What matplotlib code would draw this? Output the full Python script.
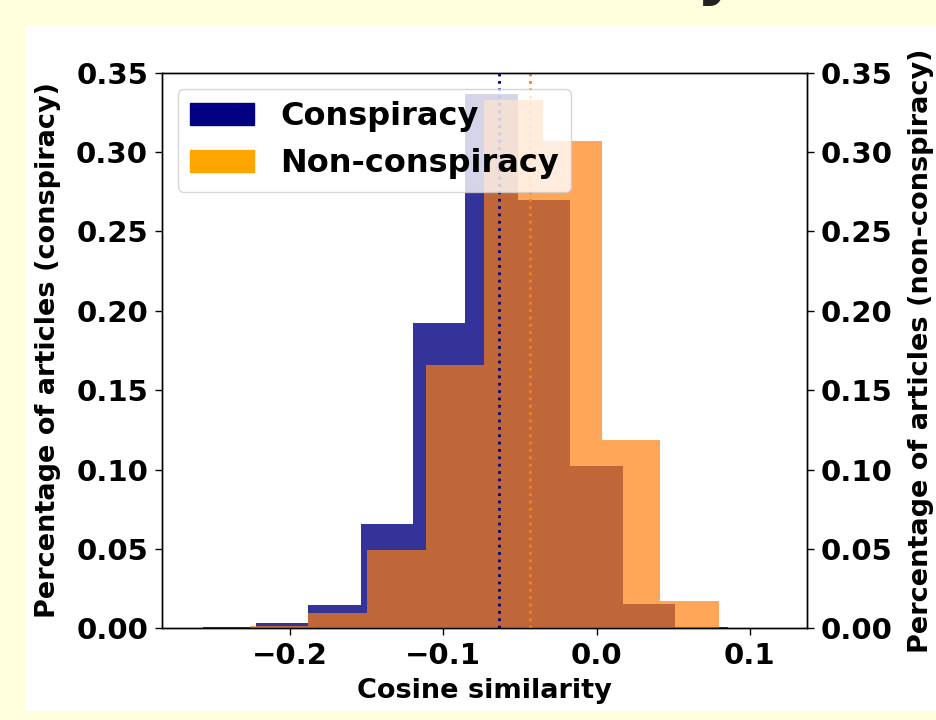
import matplotlib
matplotlib.use("Agg")
import matplotlib.pyplot as plt
from matplotlib.patches import Rectangle, Patch
import numpy as np

# ---- data ----
consp_edges = [-0.2563, -0.2221, -0.1880, -0.1538, -0.1196, -0.0855,
               -0.0513, -0.0171, 0.0171, 0.0512, 0.0854]
consp_heights = [0.0006, 0.0031, 0.0147, 0.0657, 0.1923, 0.3364,
                 0.2697, 0.1023, 0.0153, 0.0010]
nonconsp_edges = [-0.2644, -0.2262, -0.1879, -0.1497, -0.1115, -0.0732,
                  -0.0350, 0.0033, 0.0415, 0.0797, 0.1179]
nonconsp_heights = [0.0, 0.0013, 0.0095, 0.0494, 0.1660, 0.3328,
                    0.3070, 0.1186, 0.0170, 0.0]
consp_mean = -0.0636
nonconsp_mean = -0.0431
y_ticks = [0.00, 0.05, 0.10, 0.15, 0.20, 0.25, 0.30, 0.35]
x_ticks = [-0.2, -0.1, 0.0, 0.1]
labels = ["Conspiracy", "Non-conspiracy"]

plt.rcParams['font.family'] = ['DejaVu Sans']
plt.rcParams['font.weight'] = 'bold'
plt.rcParams['axes.labelweight'] = 'bold'

W, H = 936, 720
fig = plt.figure(figsize=(W / 100, H / 100), dpi=100, facecolor='#FFFFDD')
fig.patches.append(Rectangle((25 / W, 9 / H), 911 / W, 686 / H,
                             transform=fig.transFigure, facecolor='white',
                             edgecolor='none', zorder=-10))
fig.text(265 / W, 1 + 8 / H, "(b) Similarity", fontsize=46, weight='bold',
         color='#222222', ha='left', va='baseline')

left, right, top, bottom = 161.7, 806.7, 72.7, 628.3
ax = fig.add_axes([left / W, 1 - bottom / H, (right - left) / W, (bottom - top) / H])
ax2 = ax.twinx()

c_centers = [(a + b) / 2 for a, b in zip(consp_edges[:-1], consp_edges[1:])]
n_centers = [(a + b) / 2 for a, b in zip(nonconsp_edges[:-1], nonconsp_edges[1:])]
ax.hist(c_centers, bins=consp_edges, weights=consp_heights, color='navy', alpha=0.8)
ax2.hist(n_centers, bins=nonconsp_edges, weights=nonconsp_heights, color='tab:orange', alpha=0.69)

ax2.axvline(consp_mean, color='navy', linestyle=':', linewidth=2)
ax2.axvline(nonconsp_mean, color='tab:orange', linestyle=':', linewidth=2)

for a in (ax, ax2):
    a.set_ylim(0, 0.35)
    a.set_yticks(y_ticks)
    a.set_yticklabels([f"{v:.2f}" for v in y_ticks])
    a.tick_params(labelsize=21, length=4.8, width=1.0, pad=5)
    for s in a.spines.values():
        s.set_linewidth(1.0)
ax.set_xticks(x_ticks)
ax.set_xticklabels([f"{v:.1f}".replace('-', '\u2212') for v in x_ticks])

ax.set_xlabel("Cosine similarity", fontsize=19.5, fontweight='bold', labelpad=6)
ax.set_ylabel("Percentage of articles (conspiracy)", fontsize=19.5, fontweight='bold', labelpad=11)
ax2.set_ylabel("Percentage of articles (non-conspiracy)", fontsize=19.5, fontweight='bold', labelpad=11)

handles = [Patch(facecolor='navy', edgecolor='navy'), Patch(facecolor='orange', edgecolor='orange')]
leg = ax2.legend(handles, labels, loc='upper left',
                 prop={'weight': 'bold', 'size': 23})

fig.savefig("out.png", dpi=100, facecolor=fig.get_facecolor())
